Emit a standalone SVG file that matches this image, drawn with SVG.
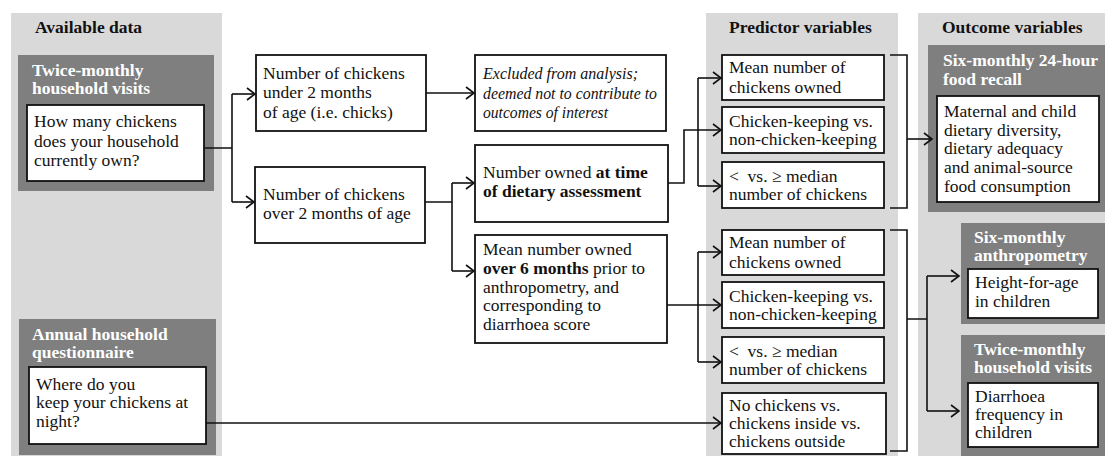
<svg xmlns="http://www.w3.org/2000/svg" width="1105" height="456" viewBox="0 0 1105 456">
<style>
text{font-family:"Liberation Serif","Times New Roman",serif;font-size:17.5px;fill:#111}
.h{font-weight:bold}
.t{font-weight:bold;fill:#fff}
.i{font-style:italic}
.panel{fill:#d9d9d9}
.dark{fill:#7f7f7f}
.box{fill:#fff;stroke:#111;stroke-width:1.8}
.c{fill:none;stroke:#111;stroke-width:1.6}
.a{fill:none;stroke:#111;stroke-width:1.6;marker-end:url(#arr)}
</style>
<defs>
<marker id="arr" markerUnits="userSpaceOnUse" markerWidth="12" markerHeight="14" refX="9" refY="6.5" orient="auto" overflow="visible">
<path d="M1,0.5 L9,6.5 L1,12.5" fill="none" stroke="#111" stroke-width="1.6"/>
</marker>
</defs>

<g id="panels">
<rect class="panel" x="11" y="13" width="211" height="443"/>
<rect class="panel" x="706" y="13" width="192" height="443"/>
<rect class="panel" x="918" y="13" width="187" height="443"/>
<text class="h" x="35" y="33">Available data</text>
<text class="h" x="729" y="33">Predictor variables</text>
<text class="h" x="942" y="33">Outcome variables</text>
</g>

<g id="src-visits">
<rect class="dark" x="18" y="55" width="196" height="136"/>
<text class="t" x="32" y="76">Twice-monthly</text>
<text class="t" x="32" y="94">household visits</text>
<rect class="box" x="27" y="105" width="177" height="76"/>
<text x="34" y="127">How many chickens</text>
<text x="34" y="147">does your household</text>
<text x="34" y="166">currently own?</text>
</g>

<g id="src-questionnaire">
<rect class="dark" x="19" y="319" width="197" height="136"/>
<text class="t" x="32" y="340">Annual household</text>
<text class="t" x="32" y="358">questionnaire</text>
<rect class="box" x="29" y="367" width="177" height="77"/>
<text x="36" y="390">Where do you</text>
<text x="36" y="408">keep your chickens at</text>
<text x="36" y="427">night?</text>
</g>

<g id="n-under2">
<rect class="box" x="256" y="55" width="170" height="76"/>
<text x="263" y="79">Number of chickens</text>
<text x="263" y="98">under 2 months</text>
<text x="263" y="118">of age (i.e. chicks)</text>
</g>

<g id="n-over2">
<rect class="box" x="255" y="167" width="170" height="76"/>
<text x="263" y="200">Number of chickens</text>
<text x="263" y="219">over 2 months of age</text>
</g>

<g id="n-excluded">
<rect class="box" x="475" y="55" width="191" height="76"/>
<text class="i" x="483" y="79" textLength="155" lengthAdjust="spacingAndGlyphs">Excluded from analysis;</text>
<text class="i" x="483" y="99" textLength="174" lengthAdjust="spacingAndGlyphs">deemed not to contribute to</text>
<text class="i" x="483" y="118" textLength="125" lengthAdjust="spacingAndGlyphs">outcomes of interest</text>
</g>

<g id="n-owned">
<rect class="box" x="475" y="145" width="193" height="77"/>
<text x="483" y="178">Number owned <tspan class="h">at time</tspan></text>
<text class="h" x="483" y="197">of dietary assessment</text>
</g>

<g id="n-mean6">
<rect class="box" x="475" y="235" width="192" height="108"/>
<text x="483" y="255">Mean number owned</text>
<text x="483" y="274"><tspan class="h">over 6 months</tspan> prior to</text>
<text x="483" y="293">anthropometry, and</text>
<text x="483" y="311">corresponding to</text>
<text x="483" y="330">diarrhoea score</text>
</g>

<g id="p1">
<rect class="box" x="722" y="55" width="162" height="45"/>
<text x="729" y="73">Mean number of</text>
<text x="729" y="93">chickens owned</text>
</g>
<g id="p2">
<rect class="box" x="722" y="107" width="162" height="46"/>
<text x="729" y="127">Chicken-keeping vs.</text>
<text x="729" y="145">non-chicken-keeping</text>
</g>
<g id="p3">
<rect class="box" x="722" y="162" width="162" height="46"/>
<text x="729" y="182">&lt;&#160; vs. ≥ median</text>
<text x="729" y="200">number of chickens</text>
</g>
<g id="p4">
<rect class="box" x="722" y="230" width="162" height="45"/>
<text x="729" y="248">Mean number of</text>
<text x="729" y="268">chickens owned</text>
</g>
<g id="p5">
<rect class="box" x="722" y="282" width="162" height="46"/>
<text x="729" y="302">Chicken-keeping vs.</text>
<text x="729" y="320">non-chicken-keeping</text>
</g>
<g id="p6">
<rect class="box" x="722" y="337" width="162" height="46"/>
<text x="729" y="357">&lt;&#160; vs. ≥ median</text>
<text x="729" y="375">number of chickens</text>
</g>
<g id="p7">
<rect class="box" x="722" y="393" width="164" height="61"/>
<text x="729" y="411">No chickens vs.</text>
<text x="729" y="429">chickens inside vs.</text>
<text x="729" y="447">chickens outside</text>
</g>

<g id="o-recall">
<rect class="dark" x="928" y="45" width="177" height="167"/>
<text class="t" x="943" y="66">Six-monthly 24-hour</text>
<text class="t" x="943" y="85">food recall</text>
<rect class="box" x="937" y="96" width="162" height="106"/>
<text x="944" y="117">Maternal and child</text>
<text x="944" y="136">dietary diversity,</text>
<text x="944" y="154">dietary adequacy</text>
<text x="944" y="173">and animal-source</text>
<text x="944" y="192">food consumption</text>
</g>

<g id="o-anthro">
<rect class="dark" x="961" y="223" width="144" height="101"/>
<text class="t" x="974" y="243">Six-monthly</text>
<text class="t" x="974" y="261">anthropometry</text>
<rect class="box" x="968" y="269" width="130" height="49"/>
<text x="975" y="288">Height-for-age</text>
<text x="975" y="307">in children</text>
</g>

<g id="o-diarrhoea">
<rect class="dark" x="961" y="335" width="144" height="121"/>
<text class="t" x="974" y="355">Twice-monthly</text>
<text class="t" x="974" y="373">household visits</text>
<rect class="box" x="968" y="383" width="130" height="64"/>
<text x="975" y="402">Diarrhoea</text>
<text x="975" y="420">frequency in</text>
<text x="975" y="438">children</text>
</g>

<g id="connectors">
<path class="c" d="M204,148 H232 M232,94 V202"/>
<path class="a" d="M232,94 H255"/>
<path class="a" d="M232,202 H254"/>
<path class="a" d="M426,93 H474"/>
<path class="c" d="M425,202 H452 M452,183 V271"/>
<path class="a" d="M452,183 H474"/>
<path class="a" d="M452,271 H474"/>
<path class="a" d="M668,183 H684 V130 H721"/>
<path class="c" d="M698,78 V186"/>
<path class="a" d="M698,78 H721"/>
<path class="a" d="M698,186 H721"/>
<path class="a" d="M667,305 H721"/>
<path class="c" d="M698,252 V362"/>
<path class="a" d="M698,252 H721"/>
<path class="a" d="M698,362 H721"/>
<path class="a" d="M206,423 H721"/>
<path class="c" d="M890,55 H907 V208 H890"/>
<path class="a" d="M907,139 H932"/>
<path class="c" d="M890,230 H907 V451 H890 M907,319 H927 M927,276 V411"/>
<path class="a" d="M927,276 H959"/>
<path class="a" d="M927,411 H959"/>
</g>
</svg>
